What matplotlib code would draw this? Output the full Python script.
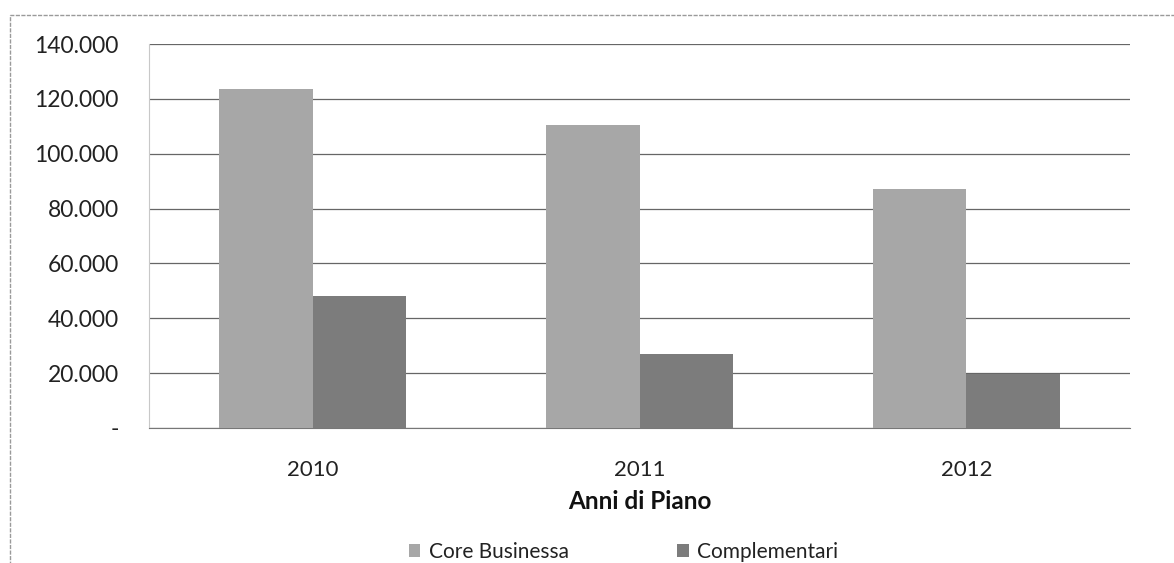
import matplotlib.pyplot as plt
import numpy as np
from matplotlib.patches import Rectangle

plt.rcParams['font.family'] = ['Lato', 'DejaVu Sans']

anni = ['2010', '2011', '2012']
core_business = [123700, 110600, 87200]
complementari = [48200, 27000, 19700]
y_ticks = [0, 20000, 40000, 60000, 80000, 100000, 120000, 140000]

col_core = '#a7a7a7'
col_comp = '#7c7c7c'

fig = plt.figure(figsize=(11.74, 5.63), dpi=100)
ax = fig.add_axes([0.127, 0.2398, 0.8355, 0.682])

x = np.arange(len(anni))
w = 0.285
ax.bar(x - w / 2, core_business, w, color=col_core, label='Core Businessa', zorder=3)
ax.bar(x + w / 2, complementari, w, color=col_comp, label='Complementari', zorder=3)

ax.set_xlim(-0.5, 2.5)
ax.set_ylim(0, 140000)
ax.set_yticks(y_ticks)
ax.set_yticklabels(['-' if v == 0 else f'{v:,}'.replace(',', '.') for v in y_ticks])
ax.set_xticks(x)
ax.set_xticklabels(anni)
ax.tick_params(axis='y', length=0, pad=22, labelsize=16.5, colors='#222222')
ax.tick_params(axis='x', length=0, pad=23, labelsize=16, colors='#222222')

ax.yaxis.grid(True, color='#666666', linewidth=0.9, zorder=0)
for s in ['top', 'right']:
    ax.spines[s].set_visible(False)
ax.spines['left'].set_color('#c8c8c8')
ax.spines['bottom'].set_color('#777777')

ax.set_xlabel('Anni di Piano', fontsize=17.5, fontweight='bold', labelpad=7, color='#111111')

fig.legend(loc='lower center', bbox_to_anchor=(0.531, -0.031), ncol=2, frameon=False,
           fontsize=15, handlelength=0.55, handleheight=0.55, handletextpad=0.4,
           columnspacing=5.2, labelcolor='#222222')

# outer chart frame
fig.patches.append(Rectangle((10 / 1174, -0.1), 1.2, 1 - 15 / 563 + 0.1,
                             transform=fig.transFigure, fill=False,
                             edgecolor='#9a9a9a', linewidth=1.0, linestyle=(0, (3, 1))))

fig.savefig('out.png', dpi=100)
